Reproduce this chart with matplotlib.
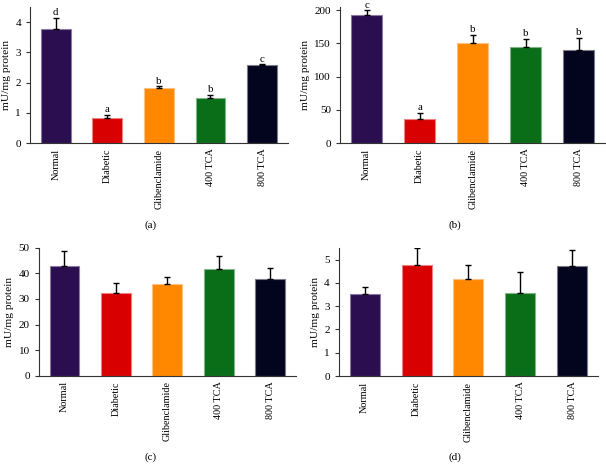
import matplotlib
matplotlib.use("Agg")
import matplotlib.pyplot as plt
import numpy as np

plt.rcParams['font.family'] = ['Liberation Serif', 'DejaVu Serif']

categories = ["Normal", "Diabetic", "Glibenclamide", "400 TCA", "800 TCA"]
colors = ["#2b0e50", "#d80000", "#ff8800", "#0a6d17", "#03051f"]
edge_colors = ["#8a7aa3", "#f08080", "#ffc080", "#7fb588", "#7a7c8c"]

# panel (a)
a_vals = [3.76, 0.83, 1.83, 1.48, 2.57]
a_err = [0.38, 0.10, 0.05, 0.12, 0.03]
a_letters = ["d", "a", "b", "b", "c"]
# panel (b)
b_vals = [193, 37, 150, 145, 140]
b_err = [7, 8, 13, 12, 19]
b_letters = ["c", "a", "b", "b", "b"]
# panel (c)
c_vals = [42.8, 32.3, 36.0, 41.8, 38.0]
c_err = [6.0, 3.9, 2.8, 5.0, 4.3]
# panel (d)
d_vals = [3.53, 4.78, 4.18, 3.58, 4.72]
d_err = [0.30, 0.72, 0.59, 0.89, 0.71]

fig = plt.figure(figsize=(6.06, 4.66), dpi=100)

panels = [
    ([0.0495, 0.693, 0.4255, 0.292], a_vals, a_err, a_letters, (0, 4.5), [0, 1, 2, 3, 4], "(a)", (0.248, 0.506)),
    ([0.561, 0.693, 0.438, 0.292], b_vals, b_err, b_letters, (0, 205), [0, 50, 100, 150, 200], "(b)", (0.751, 0.506)),
    ([0.064, 0.194, 0.424, 0.274], c_vals, c_err, None, (0, 50), [0, 10, 20, 30, 40, 50], "(c)", (0.248, 0.008)),
    ([0.559, 0.193, 0.428, 0.275], d_vals, d_err, None, (0, 5.5), [0, 1, 2, 3, 4, 5], "(d)", (0.751, 0.008)),
]

for rect, vals, errs, letters, ylim, yticks, cap, cappos in panels:
    ax = fig.add_axes(rect)
    x = np.arange(len(categories))
    ax.bar(x, vals, width=0.58, color=colors, edgecolor=edge_colors, linewidth=0.8, zorder=2)
    ax.errorbar(x, vals, yerr=[np.zeros(len(vals)), errs], fmt='none', ecolor='black',
                elinewidth=1.0, capsize=2.5, capthick=1.0, zorder=3)
    if letters:
        for xi, v, e, l in zip(x, vals, errs, letters):
            ax.annotate(l, (xi, v + e), xytext=(0, 0.5), textcoords='offset points',
                        ha='center', va='bottom', fontsize=7.8, annotation_clip=False)
    ax.set_xlim(-0.5, 4.5)
    ax.set_ylim(*ylim)
    ax.set_yticks(yticks)
    ax.set_xticks(x)
    ax.set_xticklabels(categories, rotation=90, fontsize=7.3)
    ax.tick_params(axis='y', labelsize=8, length=3, width=0.8, direction='out', colors='#333333', labelcolor='black')
    ax.tick_params(axis='x', length=0, pad=4)
    ax.set_ylabel("mU/mg protein", fontsize=8.2, labelpad=3)
    for s in ['top', 'right']:
        ax.spines[s].set_visible(False)
    for s in ['left', 'bottom']:
        ax.spines[s].set_color('#333333')
        ax.spines[s].set_linewidth(0.8)
    fig.text(cappos[0], cappos[1], cap, ha='center', va='bottom', fontsize=8)

fig.savefig("out.png", dpi=100)
